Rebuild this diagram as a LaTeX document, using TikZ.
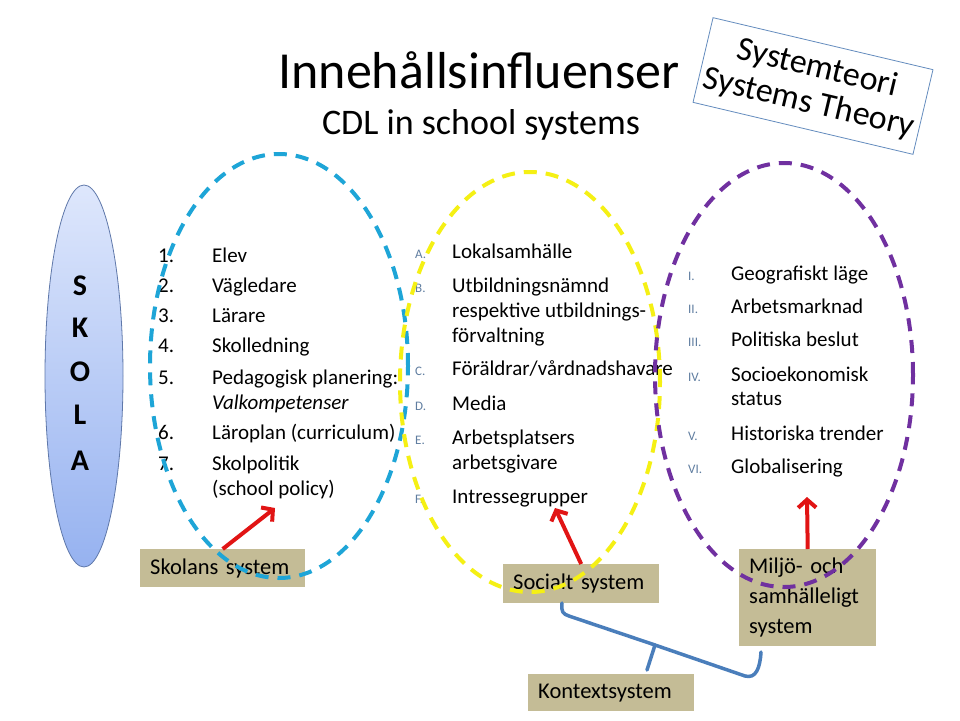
\documentclass[tikz,border=0pt]{standalone}
\usepackage{fontspec}
\setmainfont{Carlito}
\usetikzlibrary{shapes.geometric,arrows.meta}
\definecolor{tanbox}{RGB}{196,188,150}
\definecolor{cyanE}{RGB}{30,165,215}
\definecolor{yelE}{RGB}{245,240,20}
\definecolor{purE}{RGB}{112,48,160}
\definecolor{redA}{RGB}{225,20,20}
\definecolor{braceB}{RGB}{74,126,187}
\definecolor{listgray}{RGB}{95,125,160}
\definecolor{boxline}{RGB}{100,140,190}
\definecolor{skolatop}{RGB}{222,231,252}
\definecolor{skolabot}{RGB}{150,178,240}
\definecolor{skolaline}{RGB}{95,120,170}
\begin{document}
\begin{tikzpicture}[x=1pt,y=-1pt,
  itm/.style={anchor=base west,inner sep=0pt,font=\fontsize{21}{24}\selectfont},
  num/.style={anchor=base west,inner sep=0pt,font=\fontsize{21}{24}\selectfont},
  lett/.style={anchor=base west,inner sep=0pt,font=\fontsize{13}{15}\selectfont,text=listgray},
  tanlabel/.style={fill=tanbox,anchor=north west,inner xsep=10pt,inner ysep=0pt,align=left,
    font=\fontsize{22.5}{30}\selectfont},
  dashell/.style={ellipse,line width=4pt,dash pattern=on 13pt off 9pt,inner sep=0pt},
  redarrow/.style={draw=redA,line width=4pt,-{Straight Barb[length=8pt,width=18pt]}},
  skolalet/.style={font=\fontsize{30}{30}\selectfont\bfseries,inner sep=0pt}
]
\useasboundingbox (0,0) rectangle (960,720);
\fill[white] (0,0) rectangle (960,720);

% title
\node[anchor=base,inner sep=0pt,font=\fontsize{52}{52}\selectfont] (title) at (479,88) {Innehållsinfluenser};
\node[anchor=base,inner sep=0pt,font=\fontsize{36}{36}\selectfont] (subtitle) at (481,134) {CDL in school systems};

% systems theory box
\node[draw=boxline,line width=0.8pt,rotate=-13.3,minimum width=226pt,minimum height=87pt,
  align=center,inner sep=0pt,font=\fontsize{34}{36}\selectfont] (theory) at (813,86) {Systemteori\\Systems Theory};

% SKOLA
\node[ellipse,draw=skolaline,line width=0.8pt,top color=skolatop,bottom color=skolabot,
  minimum width=78pt,minimum height=382pt,inner sep=0pt] (skola) at (84,376) {};
\node[skolalet] (s1) at (80,286) {S};
\node[skolalet] (s2) at (80,328) {K};
\node[skolalet] (s3) at (80,372) {O};
\node[skolalet] (s4) at (80,415) {L};
\node[skolalet] (s5) at (80,461) {A};

% label boxes
\node[tanlabel,minimum width=165pt,minimum height=38pt,text width=145pt] (skolans) at (140,549) {Skolans system};
\node[tanlabel,minimum width=156pt,minimum height=39pt,text width=136pt] (socialt) at (503,564) {Socialt system};
\node[tanlabel,minimum width=137pt,minimum height=97pt,text width=117pt] (miljo) at (739,549) {Miljö- och\\samhälleligt\\system};
\node[tanlabel,minimum width=166pt,minimum height=37pt,text width=146pt] (kontext) at (528,674) {Kontextsystem};

% blue list
\node[num] (n1) at (158,262) {1.};  \node[itm] (b1) at (212,262) {Elev};
\node[num] (n2) at (158,292) {2.};  \node[itm] (b2) at (212,292) {Vägledare};
\node[num] (n3) at (158,322) {3.};  \node[itm] (b3) at (212,322) {Lärare};
\node[num] (n4) at (158,352) {4.};  \node[itm] (b4) at (212,352) {Skolledning};
\node[num] (n5) at (158,384) {5.};  \node[itm] (b5) at (212,384) {Pedagogisk planering:};
\node[itm] (b5b) at (212,409) {\itshape Valkompetenser};
\node[num] (n6) at (158,439) {6.};  \node[itm] (b6) at (212,439) {Läroplan (curriculum)};
\node[num] (n7) at (158,470) {7.};  \node[itm] (b7) at (212,470) {Skolpolitik};
\node[itm] (b7b) at (212,495) {(school policy)};

% yellow list
\node[lett] (la) at (415,258) {A.}; \node[itm] (y1) at (452,258) {Lokalsamhälle};
\node[lett] (lb) at (415,292) {B.}; \node[itm] (y2) at (452,292) {Utbildningsnämnd};
\node[itm] (y2b) at (452,317) {respektive utbildnings-};
\node[itm] (y2c) at (452,342) {förvaltning};
\node[lett] (lc) at (415,375) {C.}; \node[itm] (y3) at (452,375) {Föräldrar/vårdnadshavare};
\node[lett] (ld) at (415,410) {D.}; \node[itm] (y4) at (452,410) {Media};
\node[lett] (le) at (415,444) {E.}; \node[itm] (y5) at (452,444) {Arbetsplatsers};
\node[itm] (y5b) at (452,469) {arbetsgivare};
\node[lett] (lf) at (415,503) {F.}; \node[itm] (y6) at (452,503) {Intressegrupper};

% purple list
\node[lett] (r1) at (688,280) {I.};   \node[itm] (p1) at (731,280) {Geografiskt läge};
\node[lett] (r2) at (688,313) {II.};  \node[itm] (p2) at (731,313) {Arbetsmarknad};
\node[lett] (r3) at (688,346) {III.}; \node[itm] (p3) at (731,346) {Politiska beslut};
\node[lett] (r4) at (688,381) {IV.};  \node[itm] (p4) at (731,381) {Socioekonomisk};
\node[itm] (p4b) at (731,405) {status};
\node[lett] (r5) at (688,440) {V.};   \node[itm] (p5) at (731,440) {Historiska trender};
\node[lett] (r6) at (688,473) {VI.};  \node[itm] (p6) at (731,473) {Globalisering};

% dashed ellipses
\node[dashell,draw=cyanE,minimum width=258pt,minimum height=424pt] (eblue) at (279,366) {};
\node[dashell,draw=yelE,minimum width=260pt,minimum height=420pt] (eyellow) at (530,382) {};
\node[dashell,draw=purE,minimum width=258pt,minimum height=424pt] (epurple) at (784,375) {};

% red arrows
\coordinate (t1) at (275,508);
\coordinate (t2) at (555,508);
\coordinate (t3) at (807,497);
\draw[redarrow] (skolans.north) -- (t1);
\draw[redarrow] (socialt.north) -- (t2);
\draw[redarrow] (miljo.north) -- (t3);

% brace
\draw[braceB,line width=3.5pt,line join=round,line cap=round]
  (562,603) .. controls (561,612) and (563,614) .. (569,616) -- (655,645) -- (647,670);
\draw[braceB,line width=3.5pt,line join=round,line cap=round]
  (655,645) -- (745,676) .. controls (756,679) and (760,668) .. (761,652);
\end{tikzpicture}
\end{document}
